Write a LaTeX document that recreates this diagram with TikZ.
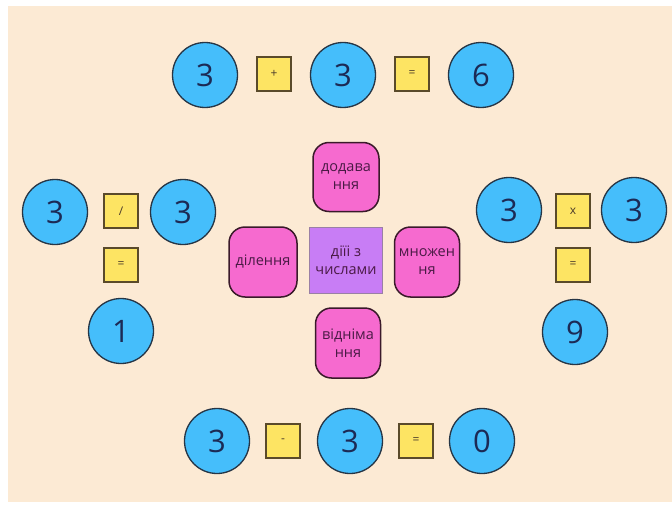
\documentclass[tikz,border=0pt]{standalone}
\usepackage{fontspec}
\setmainfont{Open Sans}
\definecolor{cream}{HTML}{FCEAD4}
\definecolor{ballblue}{HTML}{45BEFB}
\definecolor{balledge}{HTML}{263545}
\definecolor{numtxt}{HTML}{1C2A55}
\definecolor{opyellow}{HTML}{FDE463}
\definecolor{opedge}{HTML}{5A4A2A}
\definecolor{optxt}{HTML}{4A3A2A}
\definecolor{pinkfill}{HTML}{F66ACF}
\definecolor{pinkedge}{HTML}{3A1A2A}
\definecolor{pinktxt}{HTML}{4A1A45}
\definecolor{purfill}{HTML}{C87DF5}
\definecolor{puredge}{HTML}{9A80A5}
\begin{document}
\begin{tikzpicture}[x=1pt,y=-1pt,
  ball/.style={circle,draw=balledge,line width=1.3pt,fill=ballblue,minimum size=65pt,inner sep=0pt,text=numtxt,font=\fontsize{31}{33}\selectfont},
  opbox/.style={rectangle,draw=opedge,line width=1.2pt,fill=opyellow,minimum size=34pt,inner sep=0pt,text=optxt,font=\fontsize{12}{13}\selectfont},
  opname/.style={rectangle,rounded corners=16pt,draw=pinkedge,line width=1.5pt,fill=pinkfill,minimum width=66pt,minimum height=69pt,inner sep=0pt,text=pinktxt,align=center,font=\fontsize{14.5}{18}\selectfont},
  hub/.style={rectangle,draw=puredge,line width=1pt,fill=purfill,minimum width=73pt,minimum height=66pt,inner sep=0pt,text=pinktxt,align=center,font=\fontsize{14.5}{18}\selectfont}]
\fill[white] (0,0) rectangle (672,511);
\fill[cream] (8,6) rectangle (672,502);
\useasboundingbox (0,0) rectangle (672,511);
% top row
\node[ball] (t1) at (205,75) {3};
\node[opbox] (tplus) at (274,74) {+};
\node[ball] (t2) at (343,75) {3};
\node[opbox] (teq) at (412,74) {=};
\node[ball] (t3) at (481,75) {6};
% left group
\node[ball] (l1) at (55,212) {3};
\node[opbox] (ldiv) at (121,211) {/};
\node[ball] (l2) at (183,212) {3};
\node[opbox] (leq) at (121,265) {=};
\node[ball] (l3) at (121,331) {1};
% right group
\node[ball] (r1) at (509,210) {3};
\node[opbox] (rmul) at (573,211) {x};
\node[ball] (r2) at (634,210) {3};
\node[opbox] (req) at (573,265) {=};
\node[ball] (r3) at (575,332) {9};
% bottom row
\node[ball] (b1) at (217,441) {3};
\node[opbox] (bminus) at (283,441) {-};
\node[ball] (b2) at (350,441) {3};
\node[opbox] (beq) at (416,441) {=};
\node[ball] (b3) at (482,441) {0};
% center
\node[hub] (hub) at (346,260) {діїі з\\числами};
\node[opname] (add) at (346,177) {додава\\ння};
\node[opname,minimum width=68pt,minimum height=70pt] (div) at (263,262) {ділення};
\node[opname,minimum width=65pt,minimum height=70pt] (mul) at (427,262) {множен\\ня};
\node[opname,minimum width=65pt,minimum height=70pt] (sub) at (348,343) {відніма\\ння};
\end{tikzpicture}
\end{document}
